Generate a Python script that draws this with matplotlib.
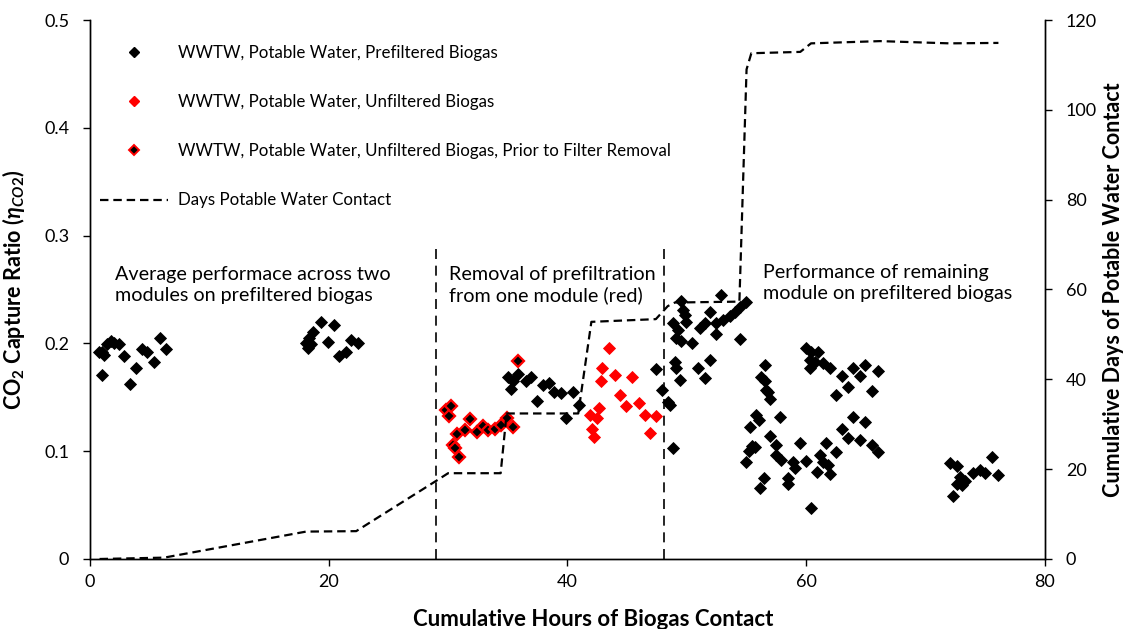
import numpy as np
import matplotlib
matplotlib.use("Agg")
import matplotlib.pyplot as plt
from matplotlib.lines import Line2D
from matplotlib.ticker import FuncFormatter

plt.rcParams['font.family'] = ['Lato', 'DejaVu Sans']
# the only mathtext is the bold left axis label
plt.rcParams['mathtext.fontset'] = 'custom'
plt.rcParams['mathtext.rm'] = 'Lato:bold'
plt.rcParams['mathtext.it'] = 'Lato:italic:bold'
plt.rcParams['mathtext.bf'] = 'Lato:bold'

# CO2 capture ratio, prefiltered biogas (both modules, then the remaining one)
pre_x = [0.75, 1.03, 1.17, 1.45, 1.74, 2.01, 2.43, 0.98, 2.85, 3.33, 3.83, 4.34, 4.80, 5.37, 5.84, 6.35,
         18.09, 18.22, 18.36, 18.51, 18.64, 19.35, 19.90, 20.40, 20.88, 21.44, 21.86, 22.42,
         34.99, 35.41, 35.83, 35.28, 36.54, 36.96, 37.43, 37.93, 38.49, 38.91, 39.47, 39.89, 40.44, 40.95,
         47.44, 47.94, 48.41, 48.55,
         48.88, 48.97, 49.12, 49.39, 48.83, 49.25, 49.12, 49.53, 49.53, 49.67, 49.81, 49.95, 50.46, 50.93,
         51.07, 51.49, 51.49, 51.91, 51.91, 52.47, 52.47, 52.89, 53.02, 53.58, 54.00, 54.42, 54.98, 54.42,
         54.95, 55.20, 55.26, 55.45, 55.70, 55.82, 56.04, 56.10, 56.24, 56.45, 56.52, 56.52, 56.66, 56.80,
         56.94, 56.94, 57.50, 57.50, 57.80, 57.92, 58.47, 58.47, 58.89, 59.04, 59.45, 59.96, 60.02, 60.29,
         60.29, 60.44, 60.44, 60.71, 60.91, 60.99, 61.13, 61.41, 61.41, 61.63, 61.83, 61.97, 61.97, 62.47,
         62.47, 63.00, 63.00, 63.46, 63.46, 63.92, 63.92, 64.49, 64.49, 64.91, 64.96, 65.47, 65.52, 65.97,
         66.02,
         72.03, 72.59, 72.31, 72.59, 72.87, 73.01, 73.29, 73.99, 74.55, 74.97, 75.53, 76.08]
pre_y = [0.192, 0.192, 0.189, 0.199, 0.202, 0.200, 0.199, 0.171, 0.188, 0.162, 0.177, 0.195, 0.192, 0.183, 0.205, 0.195,
         0.200, 0.196, 0.205, 0.199, 0.211, 0.220, 0.201, 0.217, 0.188, 0.192, 0.203, 0.200,
         0.169, 0.165, 0.172, 0.158, 0.165, 0.169, 0.147, 0.161, 0.163, 0.155, 0.154, 0.131, 0.155, 0.143,
         0.176, 0.157, 0.146, 0.143,
         0.103, 0.183, 0.177, 0.166, 0.219, 0.212, 0.205, 0.202, 0.239, 0.231, 0.226, 0.220, 0.200, 0.177,
         0.214, 0.219, 0.168, 0.185, 0.229, 0.219, 0.209, 0.245, 0.222, 0.225, 0.229, 0.234, 0.238, 0.204,
         0.090, 0.100, 0.122, 0.105, 0.104, 0.134, 0.129, 0.066, 0.169, 0.075, 0.180, 0.165, 0.157, 0.155,
         0.148, 0.114, 0.106, 0.0965, 0.132, 0.092, 0.075, 0.070, 0.090, 0.084, 0.108, 0.091, 0.196, 0.185,
         0.177, 0.192, 0.047, 0.183, 0.081, 0.192, 0.0965, 0.1815, 0.090, 0.108, 0.087, 0.1775, 0.079, 0.152,
         0.099, 0.170, 0.121, 0.160, 0.112, 0.1775, 0.132, 0.170, 0.110, 0.180, 0.127, 0.156, 0.106, 0.174,
         0.0995,
         0.089, 0.086, 0.058, 0.070, 0.076, 0.069, 0.072, 0.0795, 0.083, 0.0795, 0.095, 0.078]

# unfiltered biogas (prefiltration removed)
unf_x = [41.90, 42.04, 42.26, 42.46, 42.60, 42.77, 42.91, 43.44, 43.94, 44.44, 44.92, 45.43, 45.95, 46.46, 46.88, 47.44]
unf_y = [0.134, 0.121, 0.113, 0.131, 0.140, 0.165, 0.177, 0.196, 0.171, 0.152, 0.142, 0.169, 0.145, 0.134, 0.117, 0.133]

# same module before the filter came off
prior_x = [29.83, 30.10, 30.25, 30.38, 30.58, 30.75, 30.88, 31.42, 31.87, 32.39, 32.90, 33.38, 33.94, 34.44, 34.91, 35.41, 35.89]
prior_y = [0.138, 0.133, 0.142, 0.106, 0.103, 0.116, 0.095, 0.120, 0.130, 0.118, 0.123, 0.120, 0.121, 0.124, 0.131, 0.122, 0.184]

# cumulative days of potable water contact
days_x = [0.8, 6.2, 18.1, 22.3, 29.0, 30.0, 34.4, 34.9, 40.9, 42.0, 47.4, 48.4, 49.0, 54.4,
          55.0, 55.4, 59.5, 60.4, 66.2, 72.0, 76.1]
days_y = [0, 0.3, 6.1, 6.2, 17.4, 19.1, 19.1, 32.4, 32.4, 52.8, 53.4, 56.3, 57.1, 57.3,
          109, 112.6, 112.9, 114.8, 115.3, 114.8, 114.9]

phase_breaks = [29.0, 48.1]

fig = plt.figure(figsize=(11.28, 6.29), dpi=100)
ax = fig.add_axes([0.0798, 0.1113, 0.8466, 0.8569])
ax2 = ax.twinx()

ms = 6.2
ax.plot(pre_x, pre_y, ls='none', marker='D', ms=ms, mfc='black', mec='black', mew=0.6, zorder=3)
ax.plot(unf_x, unf_y, ls='none', marker='D', ms=ms, mfc='#ff0000', mec='#ff0000', mew=0.6, zorder=3)
ax.plot(prior_x, prior_y, ls='none', marker='D', ms=ms, mfc='black', mec='#ff0000', mew=1.6, zorder=3)

for xb in phase_breaks:
    ax.plot([xb, xb], [0, 0.288], color='black', lw=1.2, dashes=(6, 4), zorder=2)

ax2.plot(days_x, days_y, color='black', lw=1.6, dashes=(3.8, 2.2))

ax.set_xlim(0, 80)
ax.set_ylim(0, 0.5)
ax2.set_ylim(0, 120)
ax.set_xticks([0, 20, 40, 60, 80])
ax.set_yticks(np.arange(0, 0.51, 0.1))
ax2.set_yticks(np.arange(0, 121, 20))
ax.yaxis.set_major_formatter(FuncFormatter(lambda v, _: f'{v:g}'))

for a in (ax, ax2):
    a.spines['top'].set_visible(False)
    for s in a.spines.values():
        s.set_linewidth(1.0)
    a.tick_params(labelsize=13, length=5, width=1.0, direction='out')
ax.tick_params(axis='x', pad=6)
ax.tick_params(axis='y', pad=10)
ax2.tick_params(axis='y', pad=10)

ax.set_xlabel('Cumulative Hours of Biogas Contact', fontsize=16, fontweight='bold')
ax.xaxis.set_label_coords(0.527, -0.092)
ax.set_ylabel(r'$\mathrm{CO_2\ Capture\ Ratio\ (}\mathit{\eta_{CO2}}\mathrm{)}$', fontsize=15.5)
ax.yaxis.set_label_coords(-0.066, 0.5)
ax2.set_ylabel('Cumulative Days of Potable Water Contact', fontsize=15.5, fontweight='bold')
ax2.yaxis.set_label_coords(1.061, 0.5)

note_kw = dict(fontsize=14.2, va='center', ha='left', linespacing=1.25)
ax.text(2.1, 0.254, 'Average performace across two\nmodules on prefiltered biogas', **note_kw)
ax.text(30.1, 0.254, 'Removal of prefiltration\nfrom one module (red)', **note_kw)
ax.text(56.4, 0.256, 'Performance of remaining\nmodule on prefiltered biogas', **note_kw)

handles = [
    Line2D([], [], ls='none', marker='D', ms=5.5, mfc='black', mec='black'),
    Line2D([], [], ls='none', marker='D', ms=5.5, mfc='#ff0000', mec='#ff0000'),
    Line2D([], [], ls='none', marker='D', ms=5.5, mfc='black', mec='#ff0000', mew=1.4),
    Line2D([], [], color='black', lw=1.6, dashes=(3.8, 2.2)),
]
labels = ['WWTW, Potable Water, Prefiltered Biogas',
          'WWTW, Potable Water, Unfiltered Biogas',
          'WWTW, Potable Water, Unfiltered Biogas, Prior to Filter Removal',
          'Days Potable Water Contact']
ax.legend(handles, labels, loc='upper left', bbox_to_anchor=(0.0105, 0.953), frameon=False,
          fontsize=12.2, labelspacing=1.95, handlelength=4.0, handletextpad=0.6,
          borderpad=0, borderaxespad=0)

fig.savefig('out.png', dpi=100)
